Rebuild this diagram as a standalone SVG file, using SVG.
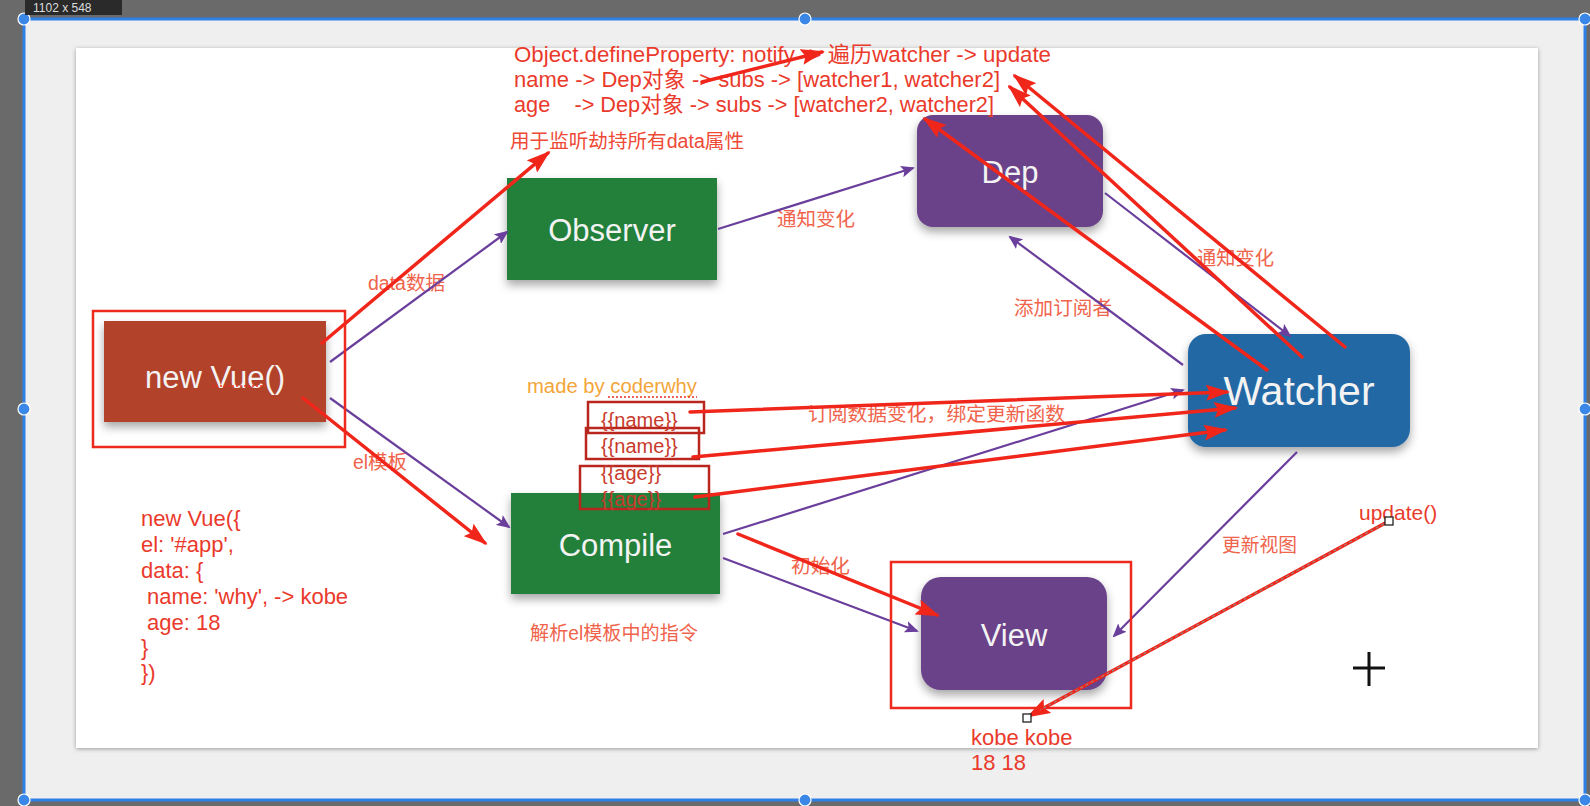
<svg xmlns="http://www.w3.org/2000/svg" width="1590" height="806" viewBox="0 0 1590 806">
<defs>
<style>
.node{font-family:'Liberation Sans','Noto Sans CJK SC',sans-serif;fill:#f3f3f3;text-anchor:middle;font-size:31px;}
.lbl{font-family:'Liberation Sans','Noto Sans CJK SC',sans-serif;font-size:19.5px;fill:#f0644c;}
.ann{font-family:'Liberation Sans','Noto Sans CJK SC',sans-serif;font-size:22px;fill:#ea3a2c;white-space:pre;}
.tpl{font-family:'Liberation Sans','Noto Sans CJK SC',sans-serif;font-size:20px;fill:#c83a2c;}
.p{stroke:#6a3f9c;stroke-width:2.2;fill:none;marker-end:url(#pa);}
.r{stroke:#f1261b;stroke-width:3.5;fill:none;marker-end:url(#ra);stroke-linecap:round;}
.box{fill:none;stroke:#ee2a1e;stroke-width:2.5;}
.tb{fill:none;stroke:#b8261e;stroke-width:2.5;}
.h{fill:#3a87e8;stroke:#ffffff;stroke-width:1.2;}
</style>
<marker id="pa" markerUnits="userSpaceOnUse" markerWidth="14" markerHeight="12" refX="12" refY="6" orient="auto"><path d="M0,0 L14,6 L0,12 L3,6 z" fill="#6a3f9c"/></marker>
<marker id="ra" markerUnits="userSpaceOnUse" markerWidth="24" markerHeight="16" refX="21" refY="8" orient="auto"><path d="M0,0 L24,8 L0,16 L4,8 z" fill="#f1261b"/></marker>
<filter id="sh" x="-20%" y="-20%" width="140%" height="160%"><feDropShadow dx="0" dy="5" stdDeviation="5" flood-color="#000" flood-opacity="0.35"/></filter>
<filter id="csh" x="-5%" y="-5%" width="110%" height="110%"><feDropShadow dx="0" dy="1" stdDeviation="2" flood-color="#000" flood-opacity="0.35"/></filter>
</defs>

<g id="background">
<rect x="0" y="0" width="1590" height="806" fill="#6a6a6a"/>
<rect x="24" y="19" width="1561" height="781" fill="#efefef"/>
<rect x="76" y="48" width="1462" height="700" fill="#ffffff" filter="url(#csh)"/>
<rect x="24" y="19" width="1561" height="781" fill="none" stroke="#2f80e6" stroke-width="3"/>
<circle class="h" cx="24" cy="19" r="6"/>
<circle class="h" cx="805" cy="19" r="6"/>
<circle class="h" cx="1585" cy="19" r="6"/>
<circle class="h" cx="24" cy="409" r="6"/>
<circle class="h" cx="1585" cy="409" r="6"/>
<circle class="h" cx="24" cy="800" r="6"/>
<circle class="h" cx="805" cy="800" r="6"/>
<circle class="h" cx="1585" cy="800" r="6"/>
<rect x="25" y="0" width="97" height="15" fill="#2a2a2a"/>
<text x="33" y="12" font-family="'Liberation Sans',sans-serif" font-size="12" fill="#dddddd">1102 x 548</text>
</g>

<g id="node-newvue">
<rect x="104" y="321" width="222" height="101" fill="#b3432b" filter="url(#sh)"/>
<text class="node" x="215" y="388">new Vue()</text>
<line x1="212" y1="386" x2="265" y2="386" stroke="#f03020" stroke-width="1.5" stroke-dasharray="2,2"/>
</g>
<g id="node-observer">
<rect x="507" y="178" width="210" height="102" fill="#22803a" filter="url(#sh)"/>
<text class="node" x="612" y="241">Observer</text>
</g>
<g id="node-compile">
<rect x="511" y="493" width="209" height="101" fill="#22803a" filter="url(#sh)"/>
<text class="node" x="615.5" y="556">Compile</text>
</g>
<g id="node-dep">
<rect x="917" y="115" width="186" height="112" rx="16" fill="#6a4389" filter="url(#sh)"/>
<text class="node" x="1010" y="183">Dep</text>
</g>
<g id="node-watcher">
<rect x="1188" y="334" width="222" height="113" rx="18" fill="#2068a4" filter="url(#sh)"/>
<text class="node" x="1299" y="405" style="font-size:41px">Watcher</text>
</g>
<g id="node-view">
<rect x="921" y="577" width="186" height="113" rx="20" fill="#6a4389" filter="url(#sh)"/>
<text class="node" x="1014" y="646">View</text>
</g>

<g id="labels">
<text class="lbl" x="368" y="290" textLength="77" lengthAdjust="spacingAndGlyphs">data数据</text>
<text class="lbl" x="353" y="469" textLength="54" lengthAdjust="spacingAndGlyphs">el模板</text>
<text class="lbl" x="777" y="226" textLength="78" lengthAdjust="spacingAndGlyphs">通知变化</text>
<text class="lbl" x="1014" y="315" textLength="98" lengthAdjust="spacingAndGlyphs">添加订阅者</text>
<text class="lbl" x="1197" y="265" textLength="77" lengthAdjust="spacingAndGlyphs">通知变化</text>
<text class="lbl" x="808" y="421" textLength="257" lengthAdjust="spacingAndGlyphs">订阅数据变化，绑定更新函数</text>
<text class="lbl" x="791" y="573" textLength="59" lengthAdjust="spacingAndGlyphs">初始化</text>
<text class="lbl" x="530" y="640" textLength="168" lengthAdjust="spacingAndGlyphs">解析el模板中的指令</text>
<text class="lbl" x="1222" y="552" textLength="75" lengthAdjust="spacingAndGlyphs">更新视图</text>
<text class="lbl" x="510" y="148" textLength="234" lengthAdjust="spacingAndGlyphs" style="fill:#ee4a36">用于监听劫持所有data属性</text>
<text x="527" y="393" font-family="'Liberation Sans',sans-serif" font-size="19.5" fill="#f3a53a" textLength="170" lengthAdjust="spacingAndGlyphs">made by coderwhy</text>
<line x1="608" y1="397" x2="697" y2="397" stroke="#e83020" stroke-width="1.5" stroke-dasharray="2,2"/>
</g>

<g id="annotations-text">
<text class="ann" x="514" y="62" textLength="537" lengthAdjust="spacingAndGlyphs">Object.defineProperty: notify -> 遍历watcher -> update</text>
<text class="ann" x="514" y="87" textLength="486" lengthAdjust="spacingAndGlyphs">name -> Dep对象 -> subs -> [watcher1, watcher2]</text>
<text class="ann" x="514" y="112" textLength="480" lengthAdjust="spacingAndGlyphs">age    -> Dep对象 -> subs -> [watcher2, watcher2]</text>
<text class="ann" x="141" y="526">new Vue({</text>
<text class="ann" x="141" y="552">el: '#app',</text>
<text class="ann" x="141" y="578">data: {</text>
<text class="ann" x="141" y="604"> name: 'why', -&gt; kobe</text>
<text class="ann" x="141" y="630"> age: 18</text>
<text class="ann" x="141" y="655">}</text>
<text class="ann" x="141" y="680">})</text>
<text class="ann" x="1359" y="520" style="font-size:21px">update()</text>
<text class="ann" x="971" y="745">kobe kobe</text>
<text class="ann" x="971" y="770">18 18</text>
</g>

<g id="connectors">
<path class="p" d="M330,362 L507,232"/>
<path class="p" d="M330,398 L509,527"/>
<path class="p" d="M718,229 L913,168"/>
<path class="p" d="M1105,193 L1290,336"/>
<path class="p" d="M1183,365 L1010,237"/>
<path class="p" d="M723,534 L1183,390"/>
<path class="p" d="M723,558 L917,631"/>
<path class="p" d="M1297,452 L1114,636"/>
</g>

<g id="template-boxes">
<rect class="tb" x="588" y="402" width="116" height="31"/>
<rect class="tb" x="586" y="428" width="113" height="31"/>
<rect class="tb" x="580" y="466" width="129" height="43"/>
<text class="tpl" x="601" y="427">{{name}}</text>
<text class="tpl" x="601" y="453">{{name}}</text>
<text class="tpl" x="601" y="480">{{age}}</text>
<text class="tpl" x="601" y="506">{{age}}</text>
</g>

<g id="red-annotations">
<rect class="box" x="93" y="311" width="252" height="136"/>
<rect class="box" x="891" y="562" width="240" height="146"/>
<path class="r" d="M322,343 L548,153"/>
<path class="r" d="M303,398 L485,543"/>
<path class="r" d="M690,412 L1227,392"/>
<path class="r" d="M693,457 L1235,408"/>
<path class="r" d="M695,497 L1225,430"/>
<path class="r" d="M738,534 L937,615"/>
<path class="r" d="M1267,370 L925,119"/>
<path class="r" d="M1302,357 L1010,87"/>
<path class="r" d="M1345,347 L1015,76"/>
<path class="r" d="M702,82 L822,52"/>
<path class="r" d="M1389,521 L1029,716"/>
<path d="M1389,521 L1040,710" stroke="#7fa3a0" stroke-width="1" stroke-dasharray="3,3" fill="none"/>
<rect x="1385" y="517" width="8" height="8" fill="#ffffff" stroke="#222" stroke-width="1.3"/>
<rect x="1023" y="714" width="8" height="8" fill="#ffffff" stroke="#222" stroke-width="1.3"/>
<path d="M1353,668 L1385,668 M1369,652 L1369,686" stroke="#111" stroke-width="3" fill="none"/>
</g>
</svg>
